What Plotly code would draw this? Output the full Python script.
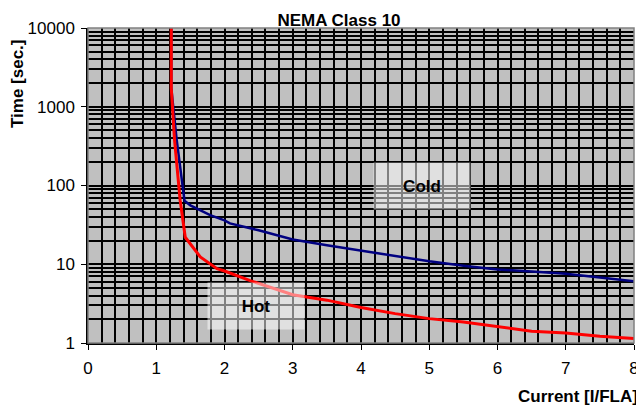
import math
import plotly.graph_objects as go

title_text = "NEMA Class 10"
x_title = "Current [I/FLA]"
y_title = "Time [sec.]"

cold_x = [1.22, 1.22, 1.30, 1.414, 1.5, 1.645, 1.79, 2.0, 2.08, 2.5, 2.815, 3.0, 3.5, 4.0, 4.5, 5.0, 5.5, 6.0, 6.5, 7.0, 7.5, 8.0]
cold_y = [10000, 1720, 377, 64, 56, 48.5, 42, 36, 33, 27, 22.7, 20.6, 17.4, 14.8, 12.6, 10.9, 9.6, 8.6, 8.1, 7.6, 6.8, 6.1]

hot_x = [1.22, 1.22, 1.268, 1.35, 1.425, 1.5, 1.645, 1.89, 2.0, 2.376, 2.5, 3.0, 3.5, 4.0, 4.5, 5.0, 5.5, 6.0, 6.5, 7.0, 7.5, 8.0]
hot_y = [10000, 1720, 377, 65, 22, 18.3, 12.4, 8.8, 8.2, 6.2, 5.7, 4.1, 3.5, 2.82, 2.36, 2.04, 1.85, 1.6, 1.41, 1.34, 1.22, 1.14]

x_major = [0, 1, 2, 3, 4, 5, 6, 7, 8]
x_minor = [round(i * 0.2, 1) for i in range(41)]
y_major = [1, 10, 100, 1000, 10000]
y_minor = [m * d for d in [1, 10, 100, 1000] for m in range(2, 10)]

labels = [("Cold", 4.895, 100), ("Hot", 2.457, 2.97)]

FONT = "Liberation Sans, Arial, sans-serif"

# the page body adds an 8px offset; the figure is sized to fill the rest of the window
OFF = 8
W, H = 636, 399
ML, MR, MT, MB = 80, 10, 20, 64
PW, PH = W - ML - MR, H - MT - MB

fig = go.Figure()
fig.add_trace(go.Scatter(x=cold_x, y=cold_y, mode="lines", name="Cold",
                         line=dict(color="#000080", width=2.5)))
fig.add_trace(go.Scatter(x=hot_x, y=hot_y, mode="lines", name="Hot",
                         line=dict(color="#FF0000", width=3)))

for txt, lx, ly in labels:
    fig.add_annotation(x=lx, y=math.log10(ly), yref="y", xref="x", text="<b>%s</b>" % txt,
                       showarrow=False, font=dict(family=FONT, size=17, color="black"),
                       bgcolor="rgba(255,255,255,0.5)", width=96, height=46, borderpad=0)

fig.add_annotation(x=(640 - OFF - ML) / PW, xref="paper", xanchor="right",
                   y=-(396 - OFF - MT - PH) / PH, yref="paper", yanchor="middle",
                   text="<b>%s</b>" % x_title, showarrow=False,
                   font=dict(family=FONT, size=17, color="black"))
fig.add_annotation(x=(17 - OFF - ML) / PW, xref="paper", xanchor="center",
                   y=1 - (84 - OFF - MT) / PH, yref="paper", yanchor="middle",
                   textangle=-90,
                   text="<b>%s</b>" % y_title, showarrow=False,
                   font=dict(family=FONT, size=17, color="black"))

fig.add_shape(type="rect", xref="x domain", yref="y domain", x0=0, x1=1, y0=0, y1=1,
              line=dict(color="#808080", width=1.5), layer="above")

fig.update_layout(
    width=W, height=H,
    margin=dict(l=ML, r=MR, t=MT, b=MB, autoexpand=False),
    paper_bgcolor="white", plot_bgcolor="#C0C0C0",
    showlegend=False,
    title=dict(text="<b>%s</b>" % title_text, x=(339 - OFF - ML) / PW, xref="paper", xanchor="center",
               y=1 - (20 - OFF) / H, yref="container", yanchor="middle",
               font=dict(family=FONT, size=17, color="black")),
    font=dict(family=FONT, size=17, color="black"),
)
fig.update_xaxes(range=[0, 8], tickmode="array", tickvals=x_major, ticks="outside", ticklen=5,
                 tickcolor="black", showgrid=True, gridcolor="black", gridwidth=1.5,
                 showline=True, linecolor="black", linewidth=1.5, zeroline=False,
                 tickfont=dict(size=17), automargin=False, ticklabelstandoff=4,
                 minor=dict(tickmode="array", tickvals=x_minor, showgrid=True,
                            gridcolor="black", gridwidth=1.5, ticks=""))
fig.update_yaxes(type="log", range=[0, 4], tickmode="array", tickvals=y_major,
                 ticktext=[str(v) for v in y_major], ticks="outside", ticklen=5,
                 tickcolor="black", showgrid=True, gridcolor="black", gridwidth=1.5,
                 showline=True, linecolor="black", linewidth=1.5, zeroline=False,
                 tickfont=dict(size=17), automargin=False, ticklabelstandoff=3,
                 minor=dict(tickmode="array", tickvals=y_minor, showgrid=True,
                            gridcolor="black", gridwidth=1.5, ticks=""))

fig.write_html("out.html")
